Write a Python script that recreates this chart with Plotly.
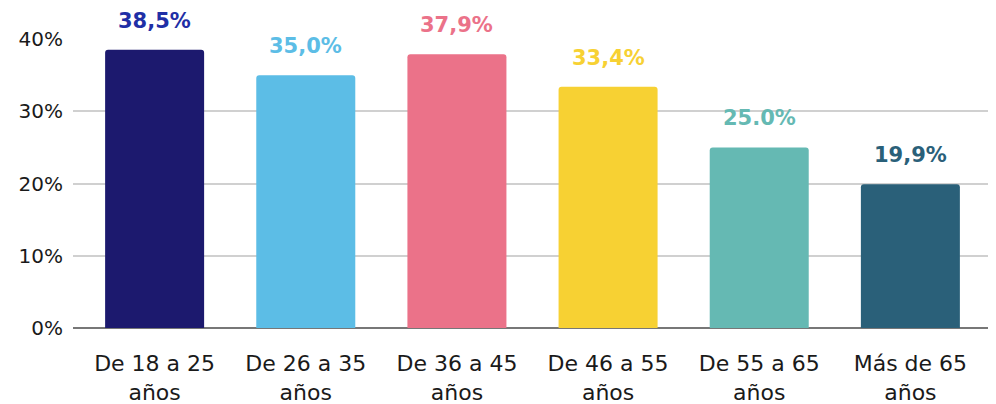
import plotly.graph_objects as go

categories = ["De 18 a 25<br>años", "De 26 a 35<br>años", "De 36 a 45<br>años",
              "De 46 a 55<br>años", "De 55 a 65<br>años", "Más de 65<br>años"]
values = [0.385, 0.350, 0.379, 0.334, 0.250, 0.199]
value_labels = ["38,5%", "35,0%", "37,9%", "33,4%", "25.0%", "19,9%"]
bar_colors = ["#1C196E", "#5CBDE6", "#EB7289", "#F7D133", "#65B9B3", "#2A6079"]
label_colors = ["#1F2FA6", "#5CBDE6", "#EB7289", "#F7D133", "#65B9B3", "#2A6079"]
y_ticks = [0, 0.1, 0.2, 0.3, 0.4]
y_tick_labels = ["0%", "10%", "20%", "30%", "40%"]

FONT = "DejaVu Sans"

fig = go.Figure(go.Bar(
    x=categories, y=values, marker=dict(color=bar_colors, line=dict(width=0)),
    width=0.655, hoverinfo="skip",
))

for c, v, t, col in zip(categories, values, value_labels, label_colors):
    fig.add_annotation(x=c, y=v, text=f"<b>{t}</b>", showarrow=False,
                       yanchor="bottom", yshift=15,
                       font=dict(family=FONT, size=21, color=col))

fig.update_layout(
    width=988, height=396,
    margin=dict(l=65, r=4, t=31, b=76),
    paper_bgcolor="white", plot_bgcolor="white",
    barcornerradius=3,
    showlegend=False,
    font=dict(family=FONT, size=20, color="#1a1a1a"),
)
fig.update_xaxes(range=[-0.54, 5.54], showgrid=False, ticks="", showline=False,
                 automargin=False, ticklabelstandoff=20,
                 tickfont=dict(family=FONT, size=22, color="#1a1a1a"))
fig.update_yaxes(range=[0, 0.4], tickvals=y_ticks, ticktext=y_tick_labels,
                 showgrid=True, gridcolor="#D0D0D0", gridwidth=1.5,
                 zeroline=True, zerolinecolor="#777777", zerolinewidth=2,
                 ticks="", ticklabelstandoff=9, automargin=False,
                 tickfont=dict(family=FONT, size=20, color="#1a1a1a"))

fig.write_html("out.html")
